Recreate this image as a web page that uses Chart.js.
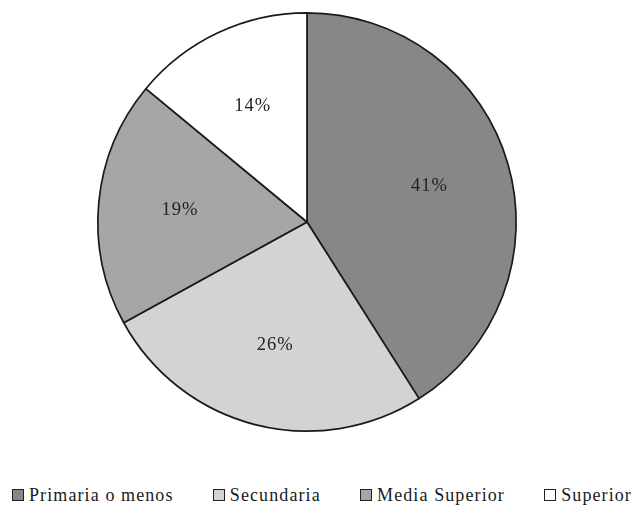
<!DOCTYPE html>
<html>
<head>
<meta charset="utf-8">
<script src="https://cdn.jsdelivr.net/npm/chart.js@4/dist/chart.umd.min.js"></script>
<style>
  html, body { margin: 0; padding: 0; background: #ffffff; }
  body { width: 632px; height: 506px; position: relative; overflow: hidden; }
  #pie { position: absolute; left: 0; top: 0; }
  #legend {
    position: absolute; left: 12px; top: 486px; width: 620px;
    display: flex; justify-content: space-between; align-items: baseline;
    font-family: "Liberation Serif", "Times New Roman", serif; font-size: 18px;
    line-height: 18px; letter-spacing: 1.1px; color: #1a1a1a; white-space: nowrap;
  }
  .item { display: flex; align-items: baseline; }
  .box { width: 12px; height: 12px; box-sizing: border-box; border: 1px solid #222; margin-right: 5px; }
</style>
</head>
<body>
<canvas id="pie" width="614" height="444"></canvas>
<div id="legend"></div>
<script>
const categories = ['Primaria o menos', 'Secundaria', 'Media Superior', 'Superior'];
const shares = [41, 26, 19, 14];
const sliceColors = ['#878787', '#d3d3d3', '#a6a6a6', '#ffffff'];
const valueSuffix = '%';

const sliceLabels = {
  id: 'sliceLabels',
  afterDatasetsDraw(chart) {
    const ctx = chart.ctx;
    const meta = chart.getDatasetMeta(0);
    ctx.save();
    ctx.font = '18.5px "Liberation Serif", "Times New Roman", serif';
    ctx.fillStyle = '#222222';
    ctx.textAlign = 'center';
    ctx.textBaseline = 'middle';
    if ('letterSpacing' in ctx) ctx.letterSpacing = '1px';
    meta.data.forEach((arc, i) => {
      const p = arc.getProps(['x', 'y', 'startAngle', 'endAngle', 'outerRadius'], true);
      const mid = (p.startAngle + p.endAngle) / 2;
      const d = p.outerRadius * 0.61;
      ctx.fillText(shares[i] + valueSuffix, p.x + Math.cos(mid) * d, p.y + Math.sin(mid) * d);
    });
    ctx.restore();
  }
};

const chart = new Chart(document.getElementById('pie'), {
  type: 'pie',
  data: {
    labels: categories,
    datasets: [{
      data: shares,
      backgroundColor: sliceColors,
      borderColor: '#1a1a1a',
      borderWidth: 1.7,
      borderAlign: 'center'
    }]
  },
  options: {
    responsive: false,
    animation: false,
    layout: { padding: 12 },
    plugins: {
      legend: { display: false },
      tooltip: { enabled: false }
    }
  },
  plugins: [sliceLabels]
});

// HTML legend built from the chart's own legend items
const legendEl = document.getElementById('legend');
const items = chart.options.plugins.legend.labels.generateLabels(chart);
items.forEach(it => {
  const el = document.createElement('div');
  el.className = 'item';
  const box = document.createElement('span');
  box.className = 'box';
  box.style.background = it.fillStyle;
  const txt = document.createElement('span');
  txt.textContent = it.text;
  el.appendChild(box);
  el.appendChild(txt);
  legendEl.appendChild(el);
});
</script>
</body>
</html>
